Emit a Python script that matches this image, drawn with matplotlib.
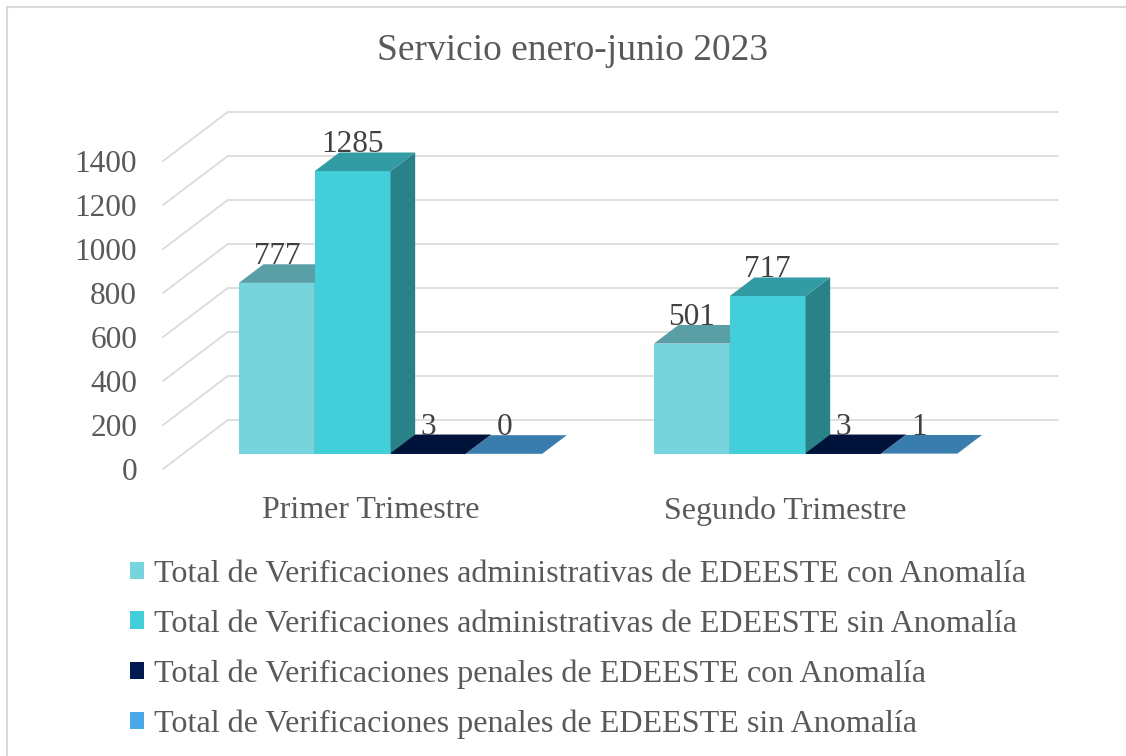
import matplotlib
matplotlib.use('Agg')
import matplotlib.pyplot as plt
from matplotlib.patches import Polygon, Rectangle
import matplotlib.colors as mcolors

# ---------------- data ----------------
title = 'Servicio enero-junio 2023'
categories = ['Primer Trimestre', 'Segundo Trimestre']
series_labels = [
    'Total de Verificaciones administrativas de EDEESTE con Anomalía',
    'Total de Verificaciones administrativas de EDEESTE sin Anomalía',
    'Total de Verificaciones penales de EDEESTE con Anomalía',
    'Total de Verificaciones penales de EDEESTE sin Anomalía',
]
adm_con = [777, 501]
adm_sin = [1285, 717]
pen_con = [3, 3]
pen_sin = [0, 1]
yticks = [0, 200, 400, 600, 800, 1000, 1200, 1400]

series_values = [adm_con, adm_sin, pen_con, pen_sin]
colors = ['#76D4DC', '#42CFDA', '#001B4F', '#4AA7E8']

# ---------------- style ----------------
plt.rcParams['font.family'] = ['Liberation Serif', 'DejaVu Serif']
TXT = '#595959'
GRID = '#D9D9D9'
FS = 22.5

W, H = 1126, 756
fig = plt.figure(figsize=(W / 100, H / 100), dpi=100)
fig.patch.set_facecolor('white')

ax = fig.add_axes([163 / W, (H - 469) / H, 830 / W, 308 / H])
ax.set_xlim(-0.5, 1.5)
ax.set_ylim(0, 1400)
ax.set_facecolor('none')
for s in ax.spines.values():
    s.set_visible(False)

# depth (oblique 3D) vector in data units
DX = 0.156
DY = 222.7
F0, F1 = 0.31, 0.69   # bar occupies this fraction of the depth
BW = 0.1827           # bar width in category units


def shade(c, k):
    r, g, b = mcolors.to_rgb(c)
    return (r * k, g * k, b * k)


# back wall / side wall gridlines
for v in yticks:
    ax.plot([-0.5, -0.5 + DX, 1.5 + DX], [v, v + DY, v + DY],
            color=GRID, lw=1.2, clip_on=False, zorder=0, solid_joinstyle='miter')

ax.set_yticks(yticks)
ax.set_yticklabels([str(v) for v in yticks])
ax.tick_params(axis='y', length=0, pad=18.7, labelsize=FS, labelcolor=TXT)
ax.set_xticks(range(len(categories)))
ax.set_xticklabels(categories)
ax.tick_params(axis='x', length=0, pad=19.5, labelsize=23, labelcolor=TXT)

d = F1 - F0
handles = []
for i in range(len(categories)):
    for j, vals in enumerate(series_values):
        h = vals[i]
        x0 = i + (j - 2) * BW + F0 * DX
        y0 = F0 * DY
        c = colors[j]
        bars = ax.bar(x0, h, width=BW, bottom=y0, align='edge', color=c,
                      linewidth=0, clip_on=False, zorder=2,
                      label=series_labels[j] if i == 0 else None)
        if i == 0:
            handles.append(bars)
        side = Polygon([(x0 + BW, y0), (x0 + BW + d * DX, y0 + d * DY),
                        (x0 + BW + d * DX, y0 + h + d * DY), (x0 + BW, y0 + h)],
                       closed=True, facecolor=shade(c, 0.63), edgecolor='none',
                       clip_on=False, zorder=2)
        ax.add_patch(side)
        top = Polygon([(x0, y0 + h), (x0 + BW, y0 + h),
                       (x0 + BW + d * DX, y0 + h + d * DY), (x0 + d * DX, y0 + h + d * DY)],
                      closed=True, facecolor=shade(c, 0.75), edgecolor='none',
                      clip_on=False, zorder=2)
        ax.add_patch(top)
        ax.text(x0 + BW / 2, y0 + h + d * DY, str(h), ha='center', va='baseline',
                fontsize=FS, color='#404040', zorder=5, clip_on=False)

fig.text(573 / W, 1 - 51 / H, title, ha='center', va='center',
         fontsize=27, color=TXT)

leg = fig.legend(handles=handles, labels=series_labels, loc='upper left',
                 bbox_to_anchor=(130 / W, 1 - 560 / H), frameon=False,
                 fontsize=23.1, labelcolor=TXT, handlelength=0.45, handleheight=0.45,
                 handletextpad=0.3, labelspacing=0.64, borderpad=0, borderaxespad=0)

fig.add_artist(Rectangle((7 / W, -0.1), 1.2, (1 - 7 / H) + 0.1, transform=fig.transFigure,
                         fill=False, edgecolor=GRID, lw=1.5))

fig.savefig('out.png', dpi=100, facecolor='white')
